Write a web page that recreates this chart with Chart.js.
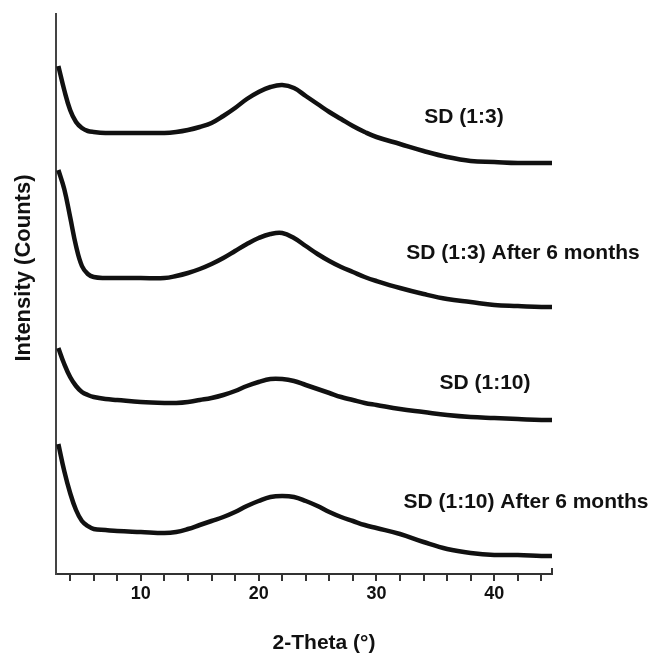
<!DOCTYPE html>
<html>
<head>
<meta charset="utf-8">
<script src="https://cdn.jsdelivr.net/npm/chart.js@4"></script>
<style>
  html, body { margin: 0; padding: 0; background: #fff; }
  #wrap { width: 654px; height: 655px; }
</style>
</head>
<body>
<div id="wrap"><canvas id="xrdChart" width="654" height="655"></canvas></div>
<script>
// 2θ positions (degrees) shared by all four patterns
const twoTheta = [3, 3.5, 4, 4.5, 5, 5.5, 6, 7, 8, 10, 12, 13, 14, 15, 16, 17, 18, 19, 20,
                  21, 22, 23, 24, 25, 26, 27, 28, 29, 30, 32, 34, 36, 38, 40, 42, 44, 44.9];

// intensities, already stacked with their vertical offsets
const sd13 = [508, 484, 464, 452, 446, 443, 442, 441, 441, 441, 441, 442, 444, 447, 451, 458, 466, 475, 482,
              487, 489, 486, 478, 470, 462, 455, 448, 442, 437, 430, 423, 417, 413, 412, 411, 411, 411];
const sd13Aged = [404, 385, 357, 328, 308, 300, 297, 296, 296, 296, 296, 298, 301, 305, 310, 316, 323, 330, 336,
                  340, 341, 336, 328, 320, 313, 307, 302, 297, 293, 286, 280, 275, 272, 269, 268, 267, 267];
const sd110 = [226, 210, 197, 188, 182, 179, 177, 175, 174, 172, 171, 171, 172, 174, 176, 179, 183, 188, 192,
               195, 195, 193, 189, 185, 181, 177, 174, 171, 169, 165, 162, 159, 157, 156, 155, 154, 154];
const sd110Aged = [130, 103, 81, 64, 53, 48, 45, 44, 43, 42, 41, 42, 45, 49, 53, 57, 62, 68, 73,
                   77, 78, 77, 73, 68, 62, 57, 53, 49, 46, 40, 32, 25, 21, 19, 19, 18, 18];

const seriesNames = ['SD (1:3)', 'SD (1:3) After 6 months', 'SD (1:10)', 'SD (1:10) After 6 months'];
const xTickLabels = [10, 20, 30, 40];

const family = "'Liberation Sans', Arial, sans-serif";
const ink = '#111';

const toPoints = values => values.map((v, i) => ({ x: twoTheta[i], y: v }));

// curve names beside each pattern, plus both axis titles
const textPlugin = {
  id: 'curveText',
  afterDraw(chart) {
    const { ctx, chartArea } = chart;
    const spots = [[464, 117], [523, 253], [485, 383], [526, 502]];
    ctx.save();
    ctx.fillStyle = ink;
    ctx.font = 'bold 21px ' + family;
    ctx.textAlign = 'center';
    ctx.textBaseline = 'middle';
    seriesNames.forEach((name, i) => ctx.fillText(name, spots[i][0], spots[i][1]));
    ctx.fillText('2-Theta (°)', 324, 643);
    ctx.font = 'bold 22px ' + family;
    ctx.translate(24, 268);
    ctx.rotate(-Math.PI / 2);
    ctx.fillText('Intensity (Counts)', 0, 0);
    ctx.restore();

    // short upturn closing the x axis
    ctx.save();
    ctx.strokeStyle = '#333';
    ctx.lineWidth = 2;
    ctx.beginPath();
    ctx.moveTo(chartArea.right, chartArea.bottom + 1);
    ctx.lineTo(chartArea.right, chartArea.bottom - 6);
    ctx.stroke();
    ctx.restore();
  }
};

const lineStyle = {
  borderColor: ink,
  borderWidth: 4.5,
  borderJoinStyle: 'round',
  pointRadius: 0,
  tension: 0.4,
  fill: false
};

new Chart(document.getElementById('xrdChart'), {
  type: 'line',
  data: {
    datasets: [
      { label: seriesNames[0], data: toPoints(sd13), ...lineStyle },
      { label: seriesNames[1], data: toPoints(sd13Aged), ...lineStyle },
      { label: seriesNames[2], data: toPoints(sd110), ...lineStyle },
      { label: seriesNames[3], data: toPoints(sd110Aged), ...lineStyle }
    ]
  },
  options: {
    responsive: false,
    animation: false,
    devicePixelRatio: 1,
    layout: { padding: { top: 14, right: 102, left: 0, bottom: 0 } },
    plugins: {
      legend: { display: false },
      tooltip: { enabled: false }
    },
    scales: {
      x: {
        type: 'linear',
        min: 2.8,
        max: 44.9,
        ticks: {
          stepSize: 2,
          includeBounds: false,
          autoSkip: false,
          maxRotation: 0,
          padding: 2,
          color: ink,
          font: { family: family, size: 18, weight: 'bold' },
          callback: v => xTickLabels.includes(Math.round(v)) && Math.abs(v - Math.round(v)) < 1e-6 ? Math.round(v) : ''
        },
        grid: { drawOnChartArea: false, drawTicks: true, tickLength: 7, color: '#333', lineWidth: 2 },
        border: { display: true, color: '#333', width: 2 },
        afterFit: s => { s.height = 81; }
      },
      y: {
        type: 'linear',
        min: 0,
        max: 560,
        ticks: { display: false },
        grid: { display: false },
        border: { display: true, color: '#444', width: 2 },
        afterFit: s => { s.width = 56; }
      }
    }
  },
  plugins: [textPlugin]
});
</script>
</body>
</html>
